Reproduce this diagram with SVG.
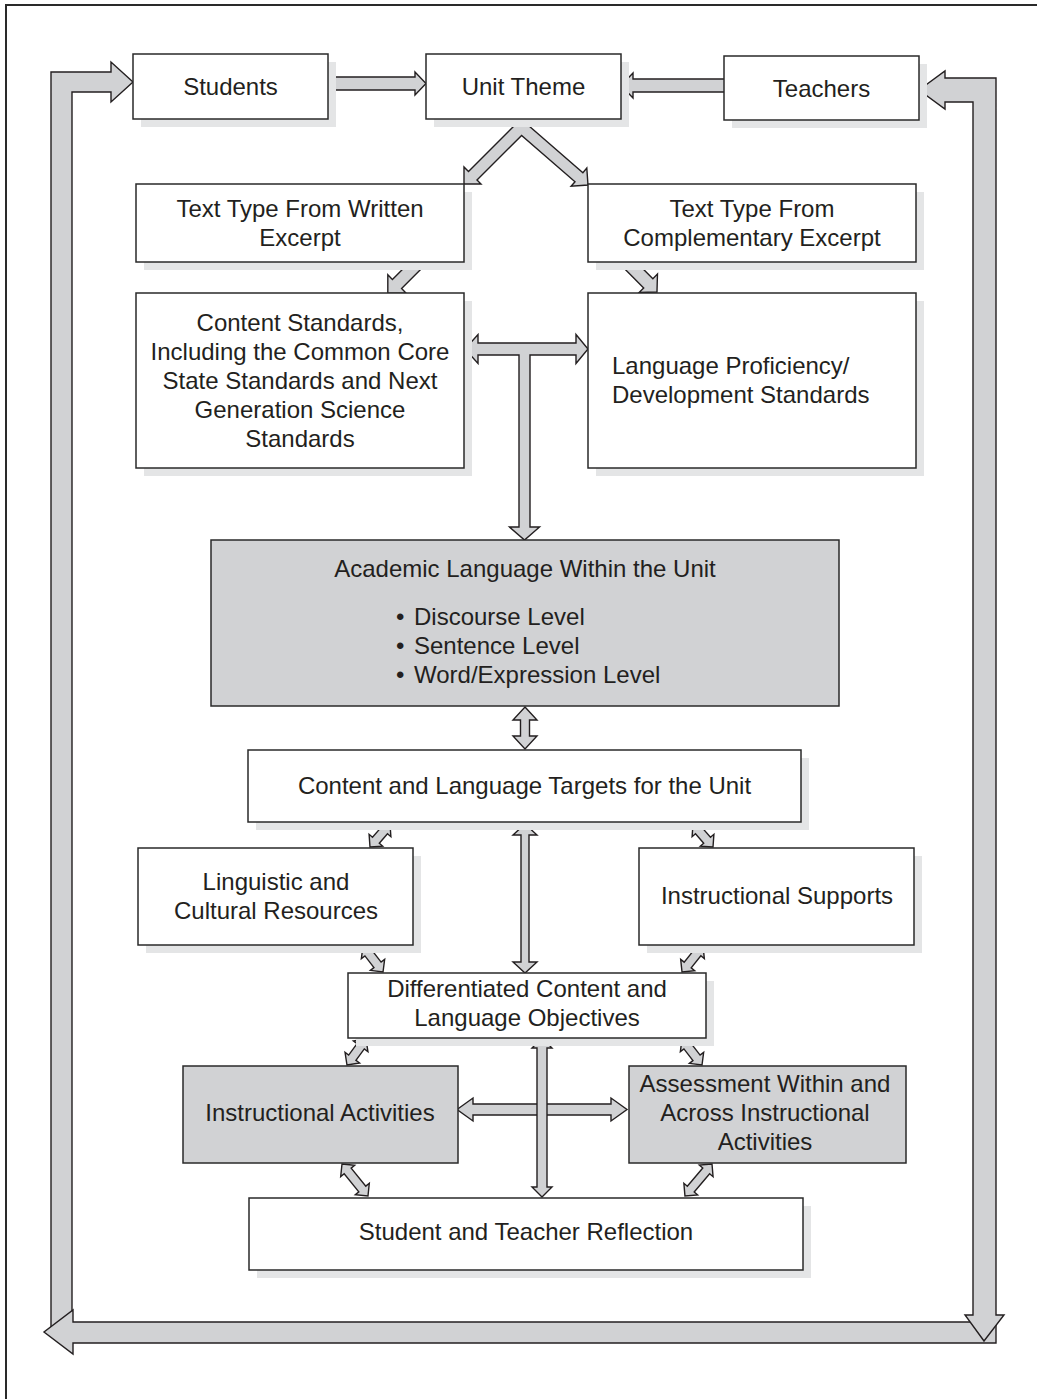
<svg xmlns="http://www.w3.org/2000/svg" width="1037" height="1399" viewBox="0 0 1037 1399">
<style>
.box{fill:#fff;stroke:#2a2a2a;stroke-width:1.5}
.gbox{fill:#d1d2d4;stroke:#2a2a2a;stroke-width:1.5}
.shd{fill:#e4e5e6}
.arr{fill:#d1d2d4;stroke:#231f20;stroke-width:1.4;stroke-linejoin:miter}
text{font-family:"Liberation Sans",Arial,Helvetica,sans-serif;font-size:24px;fill:#231f20;text-anchor:middle}
.l{text-anchor:start}
</style>
<rect x="0" y="0" width="1037" height="1399" fill="#fff"/>
<path d="M6,1399 L6,5 L1037,5" fill="none" stroke="#2a2a2a" stroke-width="2"/>

<g id="connectors">
  <!-- outer loops -->
  <path class="arr" d="M51,1335 L51,72 L111,72 L111,62 L133,82 L111,102 L111,92 L72,92 L72,1335 Z"/>
  <path class="arr" d="M996,1322 L73,1322 L73,1310 L44,1332 L73,1354 L73,1343 L996,1343 Z"/>
  <path class="arr" d="M919,90 L945,71 L945,78 L996,78 L996,1315 L1004,1315 L984,1341 L965,1315 L973,1315 L973,102 L945,102 L945,109 Z"/>
  <!-- top row -->
  <path class="arr" d="M320,77 L415,77 L415,72 L426,83.5 L415,95 L415,90 L320,90 Z"/>
  <path class="arr" d="M730,79 L633,79 L633,73 L621,85.5 L633,98 L633,92 L730,92 Z"/>
  <!-- chevron from Unit Theme -->
  <path class="arr" d="M521,119 L582.9,172.7 L586.8,168.1 L588,185 L571.1,186.2 L575,181.7 L521.6,135.4 L477,180 L481,184 L464,184 L464,167 L468.5,171.5 Z"/>
  <!-- text types to standards -->
  <path class="arr" transform="translate(426,255) rotate(135)" d="M0,-6.5 L41,-6.5 L41,-13 L54,0 L41,13 L41,6.5 L0,6.5 Z"/>
  <path class="arr" transform="translate(620,255) rotate(45)" d="M0,-6.5 L40,-6.5 L40,-13 L52.3,0 L40,13 L40,6.5 L0,6.5 Z"/>
  <!-- T connector -->
  <path class="arr" d="M465,349 L478,334.5 L478,343 L576,343 L576,334.5 L588,349 L576,363.5 L576,355 L530,355 L530,527 L539.5,527 L524.5,540 L509.5,527 L519,527 L519,355 L478,355 L478,363.5 Z"/>
  <!-- Academic <-> Targets -->
  <path class="arr" d="M525,707 L537,720 L529.5,720 L529.5,736 L537,736 L525,749 L513,736 L520.5,736 L520.5,720 L513,720 Z"/>
  <!-- Targets <-> Differentiated -->
  <path class="arr" d="M525,824 L537,835 L529,835 L529,962 L537,962 L525,973 L513,962 L521,962 L521,835 L513,835 Z"/>
  <!-- small diagonal double arrows -->
  <path class="arr" transform="translate(390,824) rotate(131)" d="M0,0 L9,-9 L9,-4.5 L21.5,-4.5 L21.5,-9 L30.5,0 L21.5,9 L21.5,4.5 L9,4.5 L9,9 Z"/>
  <path class="arr" transform="translate(693,824) rotate(49)" d="M0,0 L9,-9 L9,-4.5 L21.5,-4.5 L21.5,-9 L30.5,0 L21.5,9 L21.5,4.5 L9,4.5 L9,9 Z"/>
  <path class="arr" transform="translate(363,946) rotate(52.4)" d="M0,0 L9,-9 L9,-4.5 L23.8,-4.5 L23.8,-9 L32.8,0 L23.8,9 L23.8,4.5 L9,4.5 L9,9 Z"/>
  <path class="arr" transform="translate(703,946) rotate(128.9)" d="M0,0 L9,-9 L9,-4.5 L24.4,-4.5 L24.4,-9 L33.4,0 L24.4,9 L24.4,4.5 L9,4.5 L9,9 Z"/>
  <path class="arr" transform="translate(366,1039) rotate(126.2)" d="M0,0 L9,-9 L9,-4.5 L23.2,-4.5 L23.2,-9 L32.2,0 L23.2,9 L23.2,4.5 L9,4.5 L9,9 Z"/>
  <path class="arr" transform="translate(682,1039) rotate(52.4)" d="M0,0 L9,-9 L9,-4.5 L23.8,-4.5 L23.8,-9 L32.8,0 L23.8,9 L23.8,4.5 L9,4.5 L9,9 Z"/>
  <path class="arr" transform="translate(342,1164) rotate(50.9)" d="M0,0 L9,-9 L9,-4.5 L32.2,-4.5 L32.2,-9 L41.2,0 L32.2,9 L32.2,4.5 L9,4.5 L9,9 Z"/>
  <path class="arr" transform="translate(712,1164) rotate(130.2)" d="M0,0 L9,-9 L9,-4.5 L32.9,-4.5 L32.9,-9 L41.9,0 L32.9,9 L32.9,4.5 L9,4.5 L9,9 Z"/>
  <!-- cross -->
  <path class="arr" d="M457,1109.5 L473,1098 L473,1104 L611,1104 L611,1098 L627,1109.5 L611,1121 L611,1115 L473,1115 L473,1121 Z"/>
  <path class="arr" d="M542,1038 L552,1048 L547,1048 L547,1187 L552,1187 L542,1197 L532,1187 L537,1187 L537,1048 L532,1048 Z"/>
</g>

<g id="students">
  <rect class="shd" x="141" y="62" width="195" height="65"/>
  <rect class="box" x="133" y="54" width="195" height="65"/>
  <text x="230.5" y="95">Students</text>
</g>
<g id="unit-theme">
  <rect class="shd" x="434" y="62" width="195" height="65"/>
  <rect class="box" x="426" y="54" width="195" height="65"/>
  <text x="523.5" y="95">Unit Theme</text>
</g>
<g id="teachers">
  <rect class="shd" x="732" y="64" width="195" height="64"/>
  <rect class="box" x="724" y="56" width="195" height="64"/>
  <text x="821.5" y="97">Teachers</text>
</g>
<g id="text-type-written">
  <rect class="shd" x="144" y="192" width="328" height="78"/>
  <rect class="box" x="136" y="184" width="328" height="78"/>
  <text x="300" y="217">Text Type From Written</text>
  <text x="300" y="246">Excerpt</text>
</g>
<g id="text-type-complementary">
  <rect class="shd" x="596" y="192" width="328" height="78"/>
  <rect class="box" x="588" y="184" width="328" height="78"/>
  <text x="752" y="217">Text Type From</text>
  <text x="752" y="246">Complementary Excerpt</text>
</g>
<g id="content-standards">
  <rect class="shd" x="144" y="301" width="328" height="175"/>
  <rect class="box" x="136" y="293" width="328" height="175"/>
  <text x="300" y="331">Content Standards,</text>
  <text x="300" y="360">Including the Common Core</text>
  <text x="300" y="389">State Standards and Next</text>
  <text x="300" y="418">Generation Science</text>
  <text x="300" y="447">Standards</text>
</g>
<g id="language-standards">
  <rect class="shd" x="596" y="301" width="328" height="175"/>
  <rect class="box" x="588" y="293" width="328" height="175"/>
  <text class="l" x="612" y="374">Language Proficiency/</text>
  <text class="l" x="612" y="403">Development Standards</text>
</g>
<g id="academic-language">
  <rect class="gbox" x="211" y="540" width="628" height="166"/>
  <text x="525" y="577">Academic Language Within the Unit</text>
  <text class="l" x="396" y="625">•</text>
  <text class="l" x="414" y="625">Discourse Level</text>
  <text class="l" x="396" y="654">•</text>
  <text class="l" x="414" y="654">Sentence Level</text>
  <text class="l" x="396" y="683">•</text>
  <text class="l" x="414" y="683">Word/Expression Level</text>
</g>
<g id="targets">
  <rect class="shd" x="256" y="758" width="553" height="72"/>
  <rect class="box" x="248" y="750" width="553" height="72"/>
  <text x="524.5" y="794">Content and Language Targets for the Unit</text>
</g>
<g id="linguistic-resources">
  <rect class="shd" x="146" y="856" width="275" height="97"/>
  <rect class="box" x="138" y="848" width="275" height="97"/>
  <text x="276" y="890">Linguistic and</text>
  <text x="276" y="919">Cultural Resources</text>
</g>
<g id="instructional-supports">
  <rect class="shd" x="647" y="856" width="275" height="97"/>
  <rect class="box" x="639" y="848" width="275" height="97"/>
  <text x="777" y="904">Instructional Supports</text>
</g>
<g id="differentiated-objectives">
  <rect class="shd" x="356" y="981" width="358" height="65"/>
  <rect class="box" x="348" y="973" width="358" height="65"/>
  <text x="527" y="997">Differentiated Content and</text>
  <text x="527" y="1026">Language Objectives</text>
</g>
<g id="instructional-activities">
  <rect class="gbox" x="183" y="1066" width="275" height="97"/>
  <text x="320" y="1121">Instructional Activities</text>
</g>
<g id="assessment">
  <rect class="gbox" x="629" y="1066" width="277" height="97"/>
  <text x="765" y="1092">Assessment Within and</text>
  <text x="765" y="1121">Across Instructional</text>
  <text x="765" y="1150">Activities</text>
</g>
<g id="reflection">
  <rect class="shd" x="257" y="1206" width="554" height="72"/>
  <rect class="box" x="249" y="1198" width="554" height="72"/>
  <text x="526" y="1240">Student and Teacher Reflection</text>
</g>
</svg>
